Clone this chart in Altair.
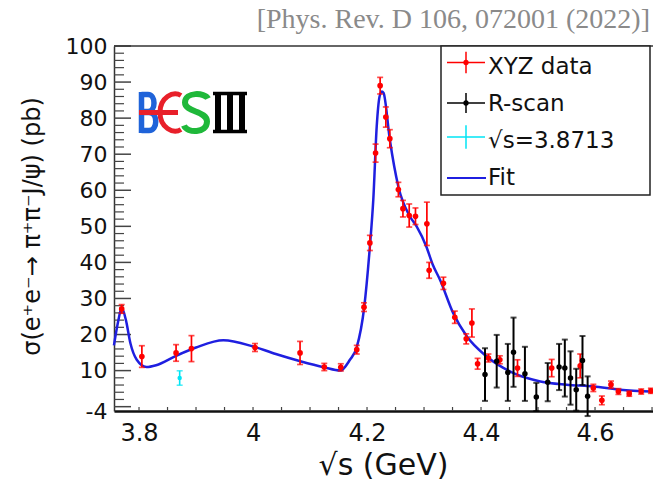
import re
import altair as alt
import pandas as pd

# ---------------- data ----------------
xyz_x = [3.7696, 3.805, 3.865, 3.892, 4.0035, 4.0825, 4.125, 4.154, 4.182, 4.1947,
         4.205, 4.215, 4.223, 4.233, 4.240, 4.255, 4.263, 4.274, 4.285, 4.305,
         4.309, 4.334, 4.354, 4.374, 4.384, 4.394, 4.413, 4.433, 4.464, 4.524,
         4.574, 4.597, 4.612, 4.628, 4.641, 4.660, 4.681, 4.698]
xyz_y = [27.1, 13.9, 14.9, 16.1, 16.4, 14.9, 11.0, 10.9, 15.8, 27.6,
         45.4, 70.3, 89.0, 80.3, 74.3, 60.2, 54.9, 53.0, 52.8, 50.7,
         37.8, 34.2, 24.8, 18.8, 23.2, 11.9, 13.5, 13.0, 10.7, 10.7,
         11.3, 5.2, 1.75, 6.1, 4.2, 3.6, 4.2, 4.4]
xyz_e = [1.2, 3.0, 2.3, 3.6, 1.1, 3.2, 1.0, 1.0, 1.2, 1.2,
         2.1, 2.5, 2.3, 2.8, 2.5, 2.0, 2.3, 3.2, 2.3, 6.0,
         2.2, 1.7, 1.7, 1.4, 3.9, 1.5, 1.1, 1.1, 2.3, 2.4,
         3.3, 1.0, 1.2, 1.0, 0.8, 0.7, 0.7, 0.7]

rscan_x = [4.407, 4.4275, 4.447, 4.457, 4.477, 4.497, 4.517, 4.537, 4.547, 4.557, 4.567, 4.578, 4.587]
rscan_y = [8.9, 12.6, 9.5, 15.1, 9.1, 2.7, 6.8, 11.0, 10.7, 7.95, 4.7, 12.8, 2.9]
rscan_e = [7.3, 7.3, 7.9, 9.6, 7.5, 3.9, 5.3, 6.4, 7.9, 7.4, 5.8, 6.8, 5.5]

cyan_x = [3.8713]
cyan_y = [7.95]
cyan_e = [2.0]

fit_x = [3.756, 3.762, 3.770, 3.777, 3.785, 3.796, 3.813, 3.83, 3.865, 3.90, 3.948,
         4.0, 4.04, 4.083, 4.125, 4.153, 4.17, 4.182, 4.195, 4.205, 4.211, 4.217,
         4.222, 4.226, 4.229, 4.24, 4.255, 4.275, 4.287, 4.304, 4.315, 4.328, 4.351,
         4.375, 4.41, 4.457, 4.504, 4.55, 4.597, 4.644, 4.70]
fit_y = [17, 22.5, 27.3, 24, 17.5, 13, 11, 11.5, 14.1, 16.4, 18.4,
         16.7, 14.6, 12.6, 10.9, 10.0, 13, 16.5, 27.5, 44.4, 57.4, 77.7,
         86, 87.4, 87, 74, 61, 52.8, 50, 44.4, 39.5, 35.2, 26,
         19.5, 13.9, 9.3, 7.0, 6.1, 5.6, 4.7, 4.2]

x_tick_labels = [3.8, 4.0, 4.2, 4.4, 4.6]
y_tick_labels = [-1.2, 10, 20, 30, 40, 50, 60, 70, 80, 90, 100]
y_major = [0, 10, 20, 30, 40, 50, 60, 70, 80, 90, 100]
y_minor = [v for v in range(2, 100, 2) if v % 10]
x_minor = [3.8, 3.85, 3.9, 3.95, 4.0, 4.05, 4.1, 4.15, 4.2, 4.25, 4.3, 4.35,
           4.4, 4.45, 4.5, 4.55, 4.6, 4.65, 4.7]

legend_labels = ["XYZ data", "R-scan", "√s=3.8713", "Fit"]
legend_colors = ["#ff0000", "#000000", "#00e5f5", "#1f1fe0"]

# ---------------- styling ----------------
W, H = 539, 365
FONT = "DejaVu Sans"
xscale = alt.Scale(domain=[3.7561, 4.7017], nice=False, zero=False)
yscale = alt.Scale(domain=[-1.2, 100], nice=False, zero=False)

xaxis = alt.Axis(values=x_tick_labels, format=".1~f", ticks=False, grid=False,
                 domainColor="#111111", domainWidth=2.5,
                 labelFont=FONT, labelFontSize=24, labelColor="#111111", labelPadding=10,
                 title="√s (GeV)", titleFont=FONT, titleFontSize=30, titleFontWeight="normal",
                 titleColor="#111111", titleX=269, titleY=63, titleAlign="center",
                 titleBaseline="alphabetic")
yaxis = alt.Axis(values=y_tick_labels, labelExpr="datum.value < 0 ? '-4' : datum.label",
                 ticks=False, grid=False, domainColor="#333333", domainWidth=1.5,
                 labelFont=FONT, labelFontSize=22, labelColor="#111111", labelPadding=7,
                 title="σ(e⁺e⁻→ π⁺π⁻J/ψ) (pb)", titleFont=FONT, titleFontSize=24,
                 titleFontWeight="normal", titleColor="#111111", titleAngle=270,
                 titleX=-82, titleY=180, titleAlign="center", titleBaseline="middle")

X = alt.X("x:Q", scale=xscale, axis=xaxis)
Y = alt.Y("y:Q", scale=yscale, axis=yaxis)
one = pd.DataFrame({"a": [0]})


def series(xs, ys, es, color, sw, size):
    df = pd.DataFrame({"x": xs, "y": ys, "e": es})
    base = alt.Chart(df).transform_calculate(lo="datum.y - datum.e", hi="datum.y + datum.e")
    rule = base.mark_rule(color=color, strokeWidth=sw).encode(
        x=X, y=alt.Y("lo:Q", scale=yscale, axis=yaxis), y2="hi:Q")
    cap1 = base.mark_tick(orient="horizontal", color=color, size=6, thickness=sw).encode(
        x=X, y=alt.Y("lo:Q", scale=yscale, axis=yaxis))
    cap2 = base.mark_tick(orient="horizontal", color=color, size=6, thickness=sw).encode(
        x=X, y=alt.Y("hi:Q", scale=yscale, axis=yaxis))
    pt = base.mark_circle(color=color, size=size, opacity=1).encode(x=X, y=Y)
    return [rule, cap1, cap2, pt]


def hline(x1, x2, y, color, sw):
    return alt.Chart(one).mark_rule(color=color, strokeWidth=sw).encode(
        x=alt.value(x1), x2=alt.value(x2), y=alt.value(y))


def vline(x, y1, y2, color, sw):
    return alt.Chart(one).mark_rule(color=color, strokeWidth=sw).encode(
        x=alt.value(x), y=alt.value(y1), y2=alt.value(y2))


def spath(p, s=55.0):
    return re.sub(r"-?\d+\.?\d*", lambda m: f"{float(m.group()) / s:.4f}", p)


layers = []

# inward ticks
layers.append(alt.Chart(pd.DataFrame({"y": y_major})).mark_rule(color="#444444", strokeWidth=1.5).encode(
    y=alt.Y("y:Q", scale=yscale, axis=yaxis), x=alt.value(0), x2=alt.value(17)))
layers.append(alt.Chart(pd.DataFrame({"y": y_minor})).mark_rule(color="#444444", strokeWidth=1.2).encode(
    y=alt.Y("y:Q", scale=yscale, axis=yaxis), x=alt.value(0), x2=alt.value(10)))
layers.append(alt.Chart(pd.DataFrame({"x": x_minor})).mark_rule(color="#444444", strokeWidth=1.2).encode(
    x=X, y=alt.value(H), y2=alt.value(H - 4)))
# top frame
layers.append(hline(0, W, 0, "#333333", 1.5))

# fit
layers.append(alt.Chart(pd.DataFrame({"x": fit_x, "y": fit_y})).mark_line(
    color=legend_colors[3], strokeWidth=2.5, interpolate="monotone").encode(x=X, y=Y))

layers += series(xyz_x, xyz_y, xyz_e, legend_colors[0], 1.7, 32)
layers += series(rscan_x, rscan_y, rscan_e, legend_colors[1], 2.0, 30)
layers += series(cyan_x, cyan_y, cyan_e, legend_colors[2], 1.6, 20)

# legend
layers.append(alt.Chart(one).mark_rect(fill="white", stroke="#222222", strokeWidth=1.5).encode(
    x=alt.value(327), x2=alt.value(536), y=alt.value(0), y2=alt.value(149)))
cross_y = [16.5, 57, 91, 132]
text_y = [21, 58, 95, 132]
vlen = [10.8, 10, 11.7]
for i in range(3):
    c = legend_colors[i]
    layers.append(hline(333, 371, cross_y[i], c, 1.5))
    layers.append(vline(352, cross_y[i] - vlen[i], cross_y[i] + vlen[i], c, 1.5))
    if i < 2:
        layers.append(alt.Chart(one).mark_circle(color=c, size=28, opacity=1).encode(
            x=alt.value(352), y=alt.value(cross_y[i])))
layers.append(hline(333, 372, cross_y[3], legend_colors[3], 2))
for i in range(4):
    layers.append(alt.Chart(one).mark_text(text=legend_labels[i], font=FONT, fontSize=23,
                                           align="left", baseline="middle", color="#111111").encode(
        x=alt.value(374), y=alt.value(text_y[i])))

# BESIII logo (stroked paths)
logo = [
    ("M-51.5,-20.5 V20.5 M-51.5,-18 H-45 C-37,-18 -37,-1 -45,-1 H-51.5 "
     "M-51.5,0 H-44 C-35,0 -35,18 -44,18 H-51.5", "#1f63d9", 5.5),
    ("M-12,-17 C-20,-22 -33,-15 -33,0 C-33,15 -20,22 -12,17 M-54,0 H-15", "#e8202a", 5),
    ("M15,-14 C12,-20 -8,-21 -8,-10 C-8,0 14,-2 14,9 C14,21 -6,21 -9,13", "#1fb83a", 6),
    ("M20,-19 H54 M20,19 H54", "#000000", 3.5),
    ("M25,-19 V19 M37,-19 V19 M49,-19 V19", "#000000", 6),
]
for p, c, sw in logo:
    layers.append(alt.Chart(one).mark_point(shape=spath(p), size=12100, filled=False,
                                            color=c, strokeWidth=sw, opacity=1).encode(
        x=alt.value(79), y=alt.value(66.5)))

# reference text
layers.append(alt.Chart(one).mark_text(text="[Phys. Rev. D 106, 072001 (2022)]",
                                       font="Liberation Serif", fontSize=28, align="right",
                                       baseline="alphabetic", color="#8a8a8a").encode(
    x=alt.value(536), y=alt.value(-18)))

chart = alt.layer(*layers).properties(
    width=W, height=H,
    autosize=alt.AutoSizeParams(type="none"),
    padding={"left": 114, "top": 46, "right": 0, "bottom": 75},
    background="white",
).configure_view(stroke=None)

chart.save("out.html", embed_options={"renderer": "svg", "actions": False})
